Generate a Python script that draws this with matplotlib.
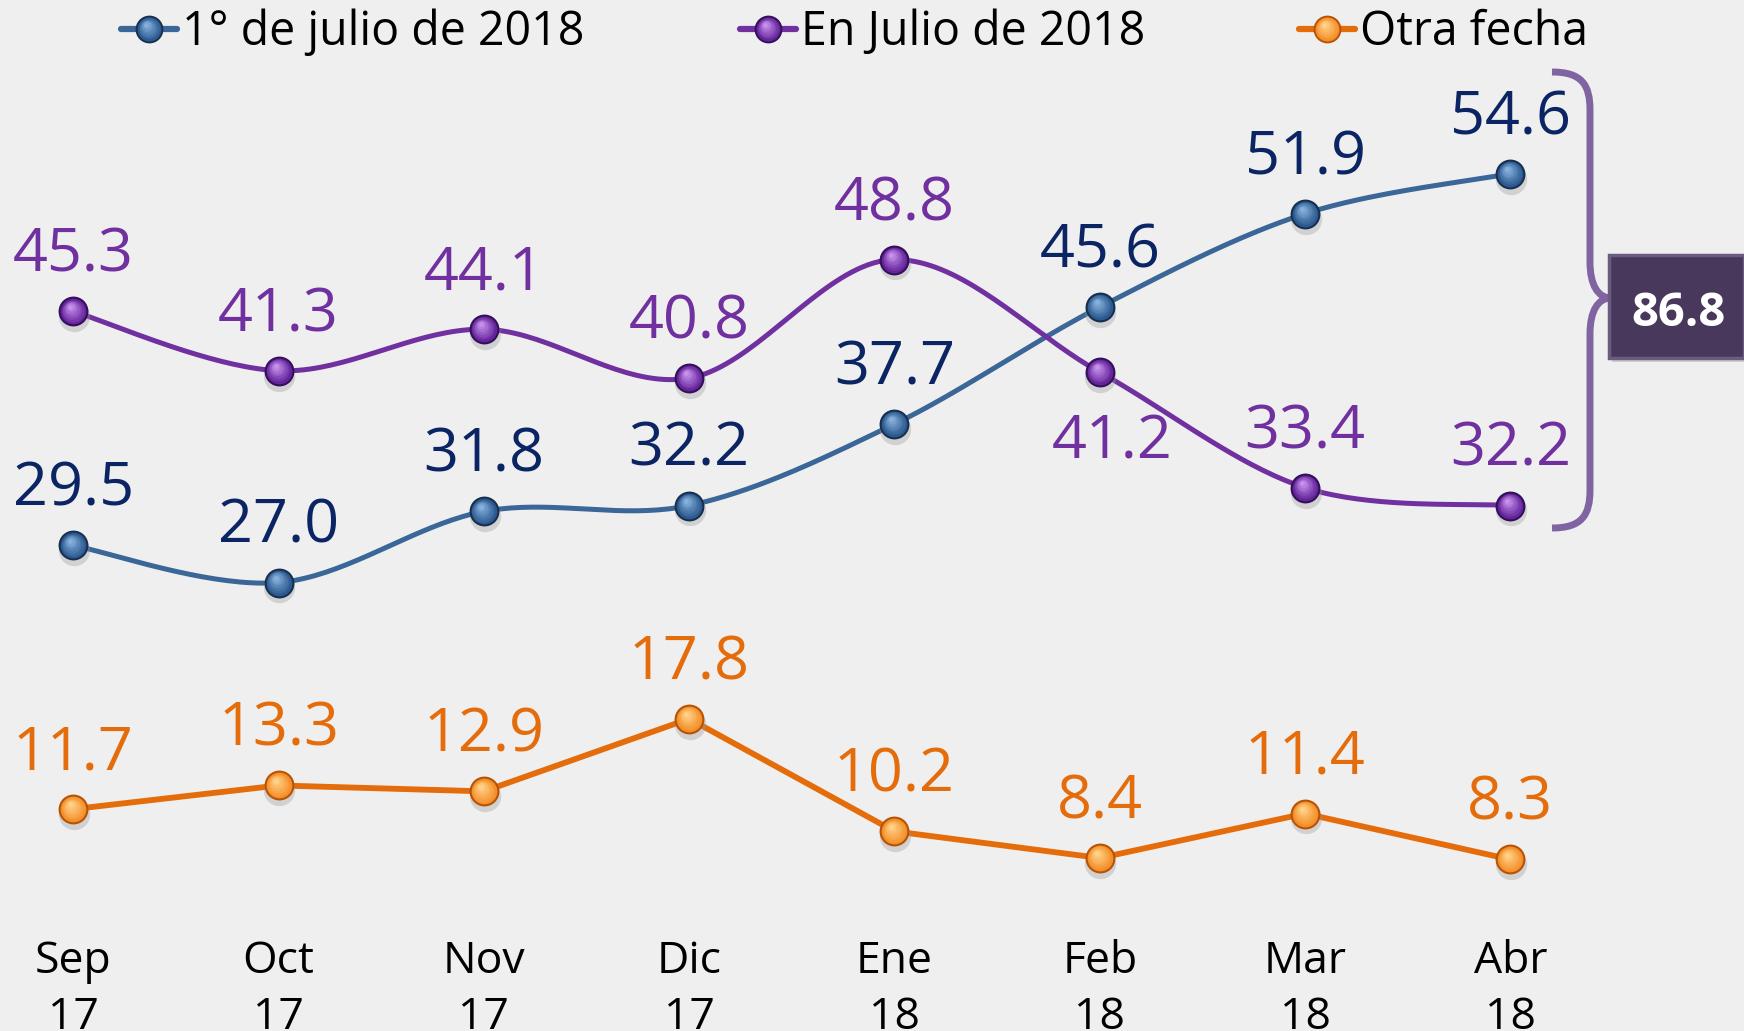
import numpy as np
import matplotlib
matplotlib.use("Agg")
import matplotlib.pyplot as plt
from matplotlib.path import Path
from matplotlib.patches import PathPatch, Rectangle
from matplotlib.transforms import offset_copy
from matplotlib.colors import to_rgb

plt.rcParams['font.family'] = ['Open Sans', 'DejaVu Sans']

# data
months = ["Sep", "Oct", "Nov", "Dic", "Ene", "Feb", "Mar", "Abr"]
years = ["17", "17", "17", "17", "18", "18", "18", "18"]
primero_julio = [29.5, 27.0, 31.8, 32.2, 37.7, 45.6, 51.9, 54.6]
en_julio = [45.3, 41.3, 44.1, 40.8, 48.8, 41.2, 33.4, 32.2]
otra_fecha = [11.7, 13.3, 12.9, 17.8, 10.2, 8.4, 11.4, 8.3]
series_names = ["1° de julio de 2018", "En Julio de 2018", "Otra fecha"]
total_label = "86.8"

BG = '#efefef'
W, H = 1744, 1031

fig = plt.figure(figsize=(W / 100, H / 100), dpi=100, facecolor=BG)
ax = fig.add_axes([0, 0, 1, 1])
ax.set_facecolor(BG)
ax.set_xlim(-0.357, 8.138)
ax.set_ylim(-3.28, 66.33)
ax.axis('off')


def smooth(xs, ys, n=40):
    # excel-like smoothed line (catmull-rom as bezier)
    P = np.column_stack([xs, ys]).astype(float)
    out = []
    for i in range(len(P) - 1):
        p0 = P[max(i - 1, 0)]
        p1 = P[i]
        p2 = P[i + 1]
        p3 = P[min(i + 2, len(P) - 1)]
        c1 = p1 + (p2 - p0) / 6
        c2 = p2 - (p3 - p1) / 6
        t = np.linspace(0, 1, n)[:, None]
        seg = (1 - t)**3 * p1 + 3 * (1 - t)**2 * t * c1 + 3 * (1 - t) * t**2 * c2 + t**3 * p2
        out.append(seg if i == 0 else seg[1:])
    return np.vstack(out)


def spheres(xs, ys, base, light, dark, size, trans, shadow=True):
    # fake 3d ball: shadow, dark rim, then lighter discs toward upper left
    xs = np.atleast_1d(xs)
    ys = np.atleast_1d(ys)
    if shadow:
        tr = offset_copy(trans, fig=fig, x=0.5, y=-3.5, units='points')
        ax.plot(xs, ys, 'o', ms=size * 1.05, color='#9a9a9a', alpha=0.35,
                mec='none', transform=tr, zorder=4)
    ax.plot(xs, ys, 'o', ms=size, color=dark, mec='none', transform=trans, zorder=5)
    b = np.array(to_rgb(base))
    li = np.array(to_rgb(light))
    steps = 7
    for k in range(steps):
        f = k / (steps - 1)
        s = size * (0.86 - 0.7 * f)
        c = b * (1 - f) + li * f
        dx = -size * 0.1 * f
        dy = size * 0.16 * f
        tr = offset_copy(trans, fig=fig, x=dx, y=dy, units='points')
        ax.plot(xs, ys, 'o', ms=s, color=tuple(c), mec='none', transform=tr, zorder=5 + k * 0.01)


x = np.arange(len(months))

styles = [
    dict(vals=primero_julio, line='#3a6698', lab='#0b2463', base='#2c5a90',
         light='#86b0dc', dark='#18304f', smooth=True, lw=3.6),
    dict(vals=en_julio, line='#7030a0', lab='#7030a0', base='#64249a',
         light='#c690ec', dark='#34105a', smooth=True, lw=3.6),
    dict(vals=otra_fecha, line='#e46c0a', lab='#e46c0a', base='#f4902a',
         light='#ffd28a', dark='#b85306', smooth=False, lw=4.2),
]

for st in styles:
    if st['smooth']:
        pts = smooth(x, st['vals'])
        ax.plot(pts[:, 0], pts[:, 1], color=st['line'], lw=st['lw'], zorder=3,
                solid_capstyle='round')
    else:
        ax.plot(x, st['vals'], color=st['line'], lw=st['lw'], zorder=3)
    spheres(x, st['vals'], st['base'], st['light'], st['dark'], 21.5, ax.transData)

# data labels
for st in styles:
    for i, v in enumerate(st['vals']):
        off = (0, 28.5)
        if st['vals'] is en_julio and i == 5:
            off = (9, -62)
        ax.annotate(f"{v:.1f}", (i, v), xytext=off, textcoords='offset points',
                    ha='center', va='baseline', fontsize=44, color=st['lab'], zorder=6)

# x labels
for i in range(len(months)):
    ax.annotate(months[i], (i, 0), xycoords=('data', 'figure pixels'), xytext=(0, H - 973),
                textcoords='offset pixels', ha='center', va='baseline', fontsize=32, color='black')
    ax.annotate(years[i], (i, 0), xycoords=('data', 'figure pixels'), xytext=(0, H - 1029),
                textcoords='offset pixels', ha='center', va='baseline', fontsize=32, color='black')

# legend
leg_y = 1 - 29 / H
leg_x = [121, 740, 1299]
for k, st in enumerate(styles):
    x0 = leg_x[k] / W
    x1 = (leg_x[k] + 56) / W
    ax.plot([x0, x1], [leg_y, leg_y], color=st['line'], lw=4.5, transform=ax.transAxes,
            solid_capstyle='round', zorder=4)
    spheres((x0 + x1) / 2, leg_y, st['base'], st['light'], st['dark'], 20,
            ax.transAxes, shadow=False)
    ax.text(x1 + 5 / W, 1 - 45 / H, series_names[k], transform=ax.transAxes, ha='left',
            va='baseline', fontsize=33.5, color='black')

# bracket around last two values
def fx(px):
    return px / W


def fy(py):
    return 1 - py / H


verts = [
    (fx(1552), fy(72)),
    (fx(1582), fy(72)), (fx(1590), fy(85)), (fx(1590), fy(110)),
    (fx(1590), fy(262)),
    (fx(1590), fy(285)), (fx(1598), fy(298)), (fx(1611), fy(298)),
    (fx(1598), fy(298)), (fx(1590), fy(311)), (fx(1590), fy(334)),
    (fx(1590), fy(490)),
    (fx(1590), fy(515)), (fx(1582), fy(528)), (fx(1552), fy(528)),
]
codes = [Path.MOVETO, Path.CURVE4, Path.CURVE4, Path.CURVE4, Path.LINETO,
         Path.CURVE4, Path.CURVE4, Path.CURVE4, Path.CURVE4, Path.CURVE4, Path.CURVE4,
         Path.LINETO, Path.CURVE4, Path.CURVE4, Path.CURVE4]
ax.add_patch(PathPatch(Path(verts, codes), fc='none', ec='#8064a2', lw=5,
                       transform=ax.transAxes, zorder=2, capstyle='butt'))

# total box
ax.add_patch(Rectangle((fx(1612), fy(362)), (W - 1612) / W, 104 / H, fc='#9a9a9a',
                       alpha=0.4, ec='none', transform=ax.transAxes, zorder=6))
ax.add_patch(Rectangle((fx(1609), fy(358)), (W - 1609) / W, 103 / H, fc='#48385b',
                       ec='#6c5c82', lw=2.5, transform=ax.transAxes, zorder=7))
ax.text(fx(1678), fy(326), total_label, transform=ax.transAxes, ha='center', va='baseline',
        fontsize=34, fontweight='bold', color='white', zorder=8)

fig.savefig("out.png", dpi=100, facecolor=BG)
